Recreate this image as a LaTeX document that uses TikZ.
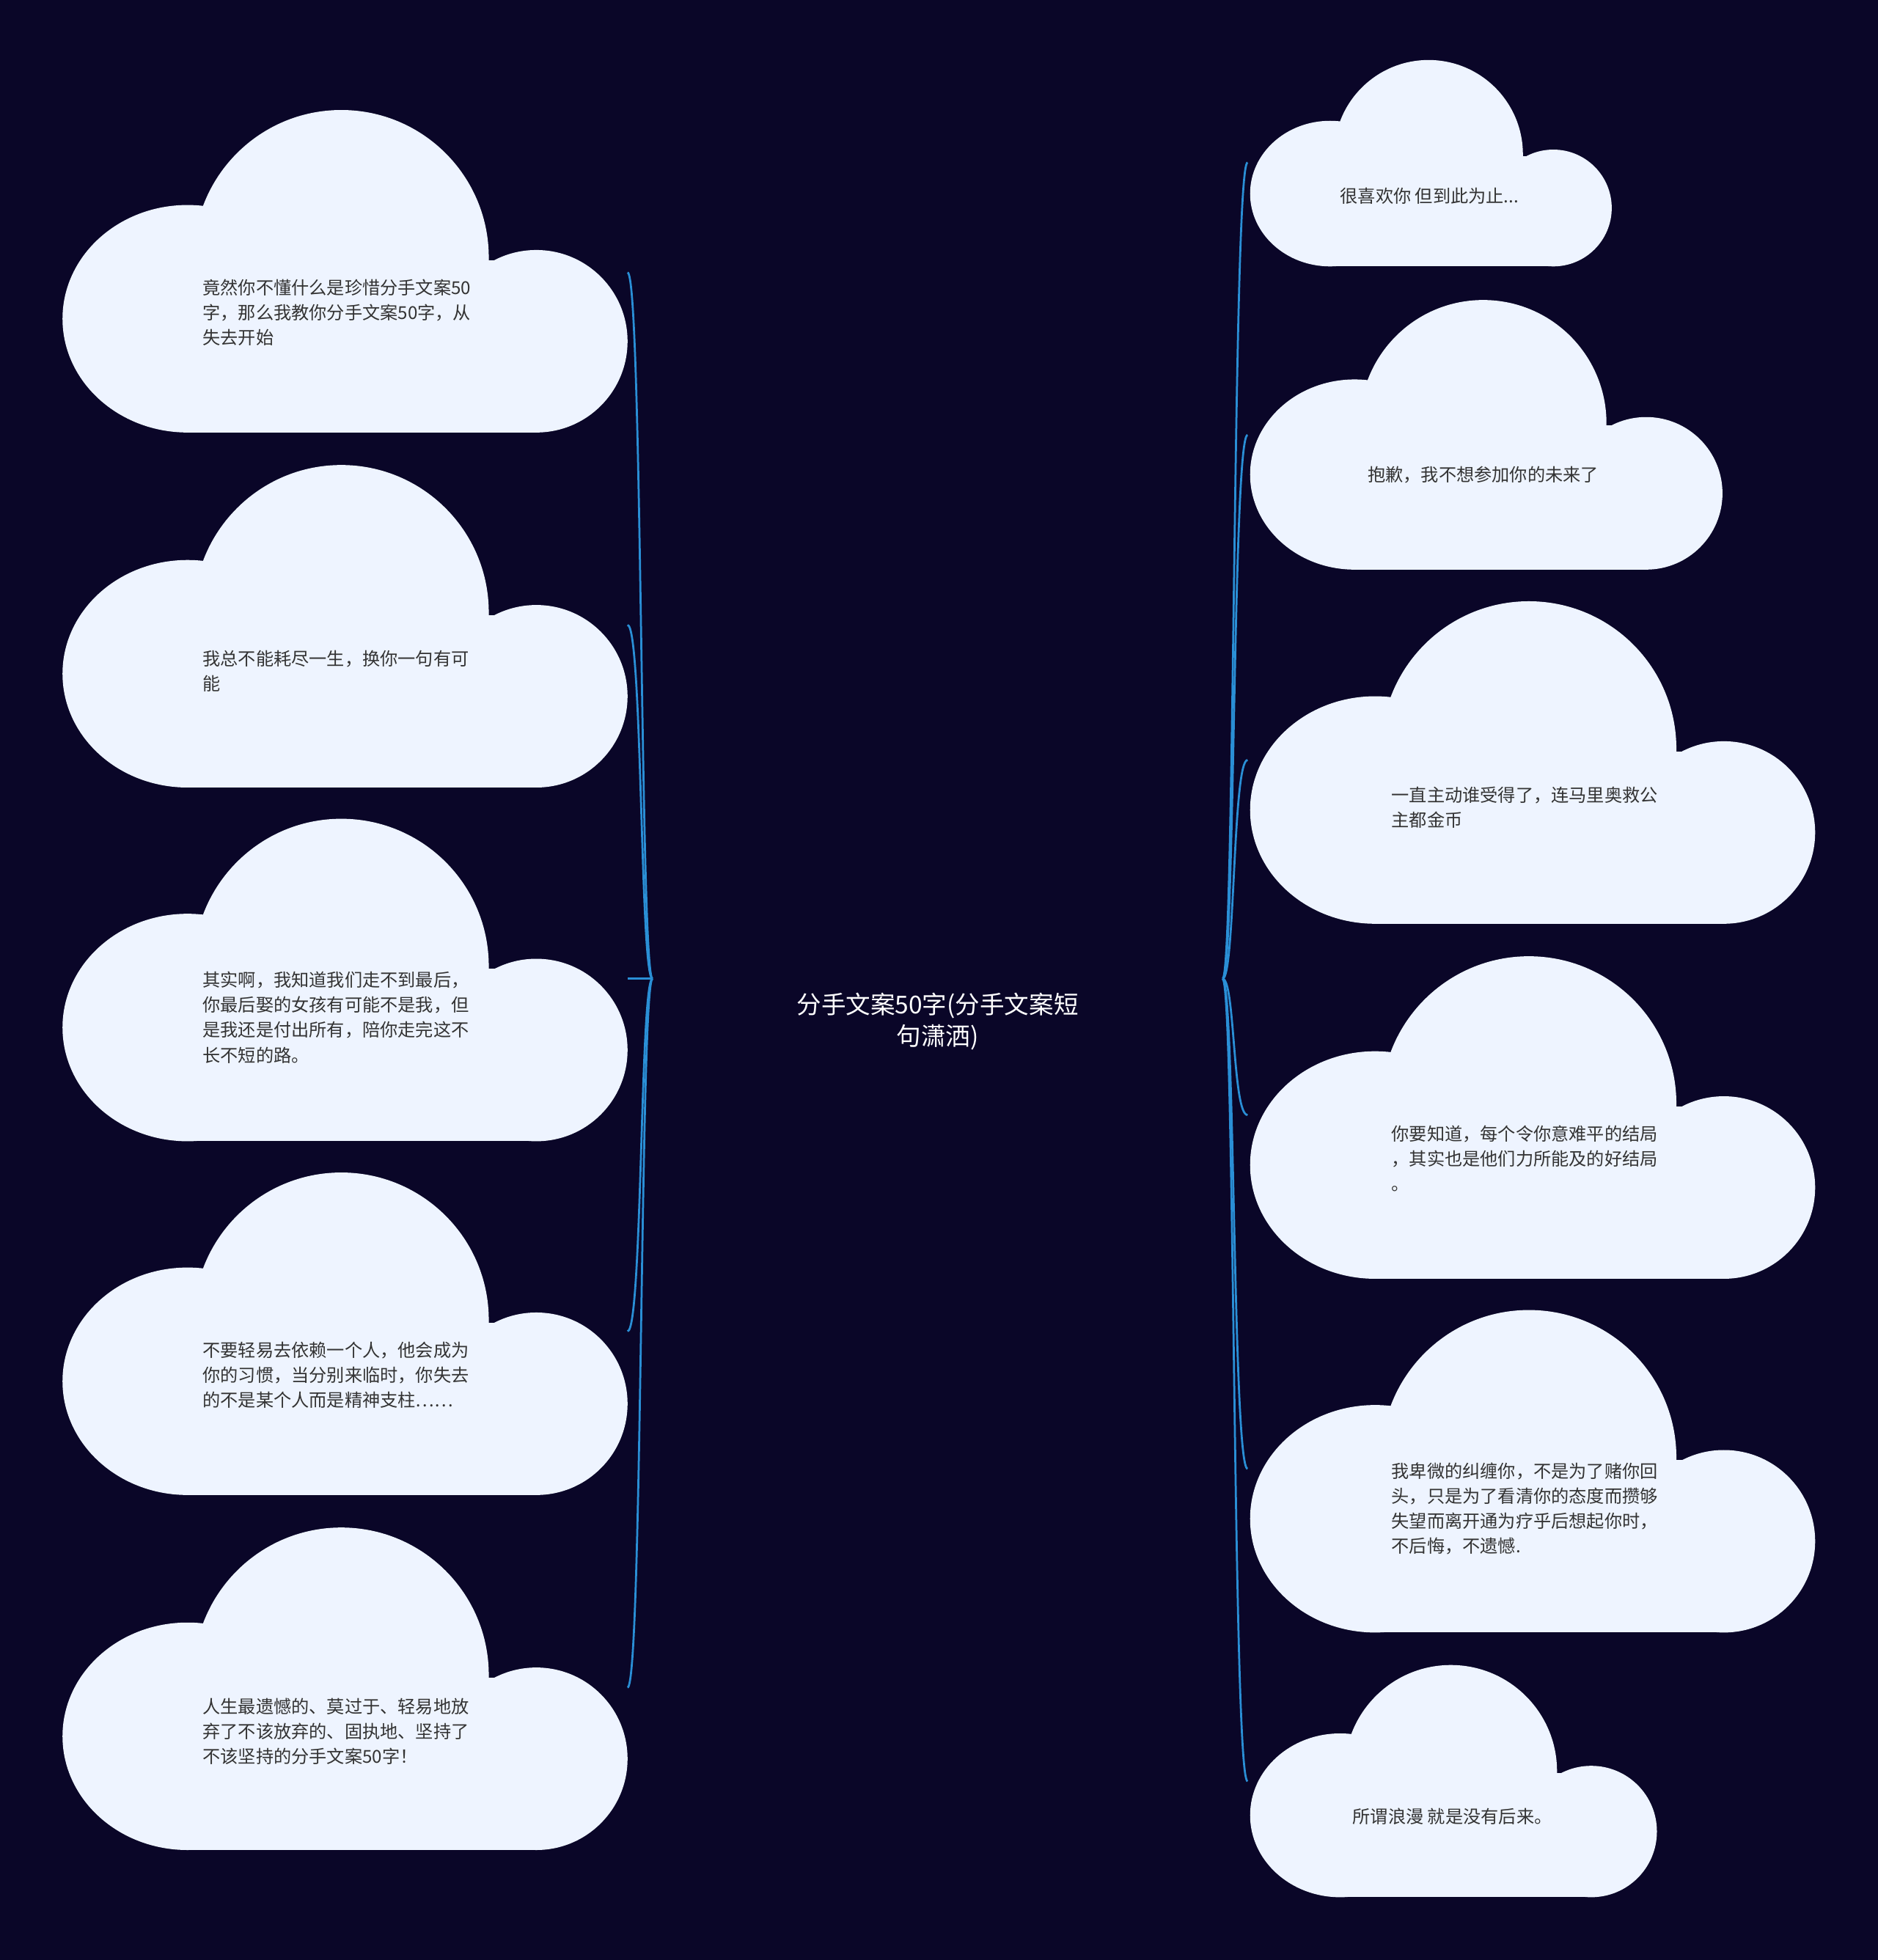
\documentclass[tikz,border=0pt]{standalone}
\usepackage{fontspec}
\setmainfont{Noto Sans CJK SC}
\usetikzlibrary{calc}
\definecolor{bgnavy}{HTML}{0A0628}
\definecolor{cloudfill}{HTML}{EEF4FF}
\definecolor{linkblue}{HTML}{2A8FD6}
\definecolor{txtgray}{HTML}{333333}
\tikzset{
  leaf/.style={anchor=west, align=left, text=txtgray, inner sep=0pt,
    font=\fontsize{20.2}{28.4}\selectfont},
  link/.style={draw=linkblue, line width=2.3pt},
  root/.style={align=center, text=white, inner sep=0pt,
    font=\fontsize{28}{36}\selectfont}
}
% cloud outline: x0, top, scale
\newcommand{\cloudat}[3]{%
  \begin{scope}[shift={(#1,#2)}, scale=#3]
    \fill[cloudfill] (223,118) ellipse[x radius=118, y radius=118];
    \fill[cloudfill] (100,167) ellipse[x radius=100, y radius=91];
    \fill[cloudfill] (379,185) ellipse[x radius=73, y radius=73];
    \fill[cloudfill] (100,120) rectangle (379,258);
  \end{scope}}
\begin{document}
\begin{tikzpicture}[x=0.05cm, y=-0.05cm]
\fill[bgnavy] (0,0) rectangle (1502,1568);
\useasboundingbox (0,0) rectangle (1502,1568);

% clouds
\cloudat{50}{88}{1}
\cloudat{50}{372}{1}
\cloudat{50}{655}{1}
\cloudat{50}{938}{1}
\cloudat{50}{1222}{1}
\cloudat{1000}{48}{0.64}
\cloudat{1000}{240}{0.836}
\cloudat{1000}{481}{1}
\cloudat{1000}{765}{1}
\cloudat{1000}{1048}{1}
\cloudat{1000}{1332}{0.72}

% texts
\node[root] (root) at (750,817) {分手文案50字(分手文案短\\句潇洒)};
\node[leaf] (l1) at (162,250) {竟然你不懂什么是珍惜分手文案50\\字，那么我教你分手文案50字，从\\失去开始};
\node[leaf] (l2) at (162,537) {我总不能耗尽一生，换你一句有可\\能};
\node[leaf] (l3) at (162,814) {其实啊，我知道我们走不到最后，\\你最后娶的女孩有可能不是我，但\\是我还是付出所有，陪你走完这不\\长不短的路。};
\node[leaf] (l4) at (162,1100) {不要轻易去依赖一个人，他会成为\\你的习惯，当分别来临时，你失去\\的不是某个人而是精神支柱……};
\node[leaf] (l5) at (162,1385) {人生最遗憾的、莫过于、轻易地放\\弃了不该放弃的、固执地、坚持了\\不该坚持的分手文案50字！};
\node[leaf] (r1) at (1072,157) {很喜欢你 但到此为止...};
\node[leaf] (r2) at (1094,380) {抱歉，我不想参加你的未来了};
\node[leaf] (r3) at (1113,646) {一直主动谁受得了，连马里奥救公\\主都金币};
\node[leaf] (r4) at (1113,927) {你要知道，每个令你意难平的结局\\，其实也是他们力所能及的好结局\\。};
\node[leaf] (r5) at (1113,1207) {我卑微的纠缠你，不是为了赌你回\\头，只是为了看清你的态度而攒够\\失望而离开通为疗乎后想起你时，\\不后悔，不遗憾.};
\node[leaf] (r6) at (1082,1453) {所谓浪漫 就是没有后来。};

% hubs and ends
\coordinate (hubL) at (522,783);
\coordinate (hubR) at (978,783);
\coordinate (el1) at (502,218);
\coordinate (el2) at (502,500);
\coordinate (el3) at (502,783);
\coordinate (el4) at (502,1065);
\coordinate (el5) at (502,1350);
\coordinate (er1) at (998,130);
\coordinate (er2) at (998,348);
\coordinate (er3) at (998,608);
\coordinate (er4) at (998,892);
\coordinate (er5) at (998,1175);
\coordinate (er6) at (998,1425);

\foreach \e in {el1,el2,el4,el5}
  \path[link] (hubL) .. controls ($(hubL)+(-10,0)$) and ($(\e)+(12,0)$) .. (\e);
\path[link] (hubL) -- (el3);
\foreach \e in {er1,er2,er3,er4,er5,er6}
  \path[link] (hubR) .. controls ($(hubR)+(10,0)$) and ($(\e)+(-12,0)$) .. (\e);
\end{tikzpicture}
\end{document}
